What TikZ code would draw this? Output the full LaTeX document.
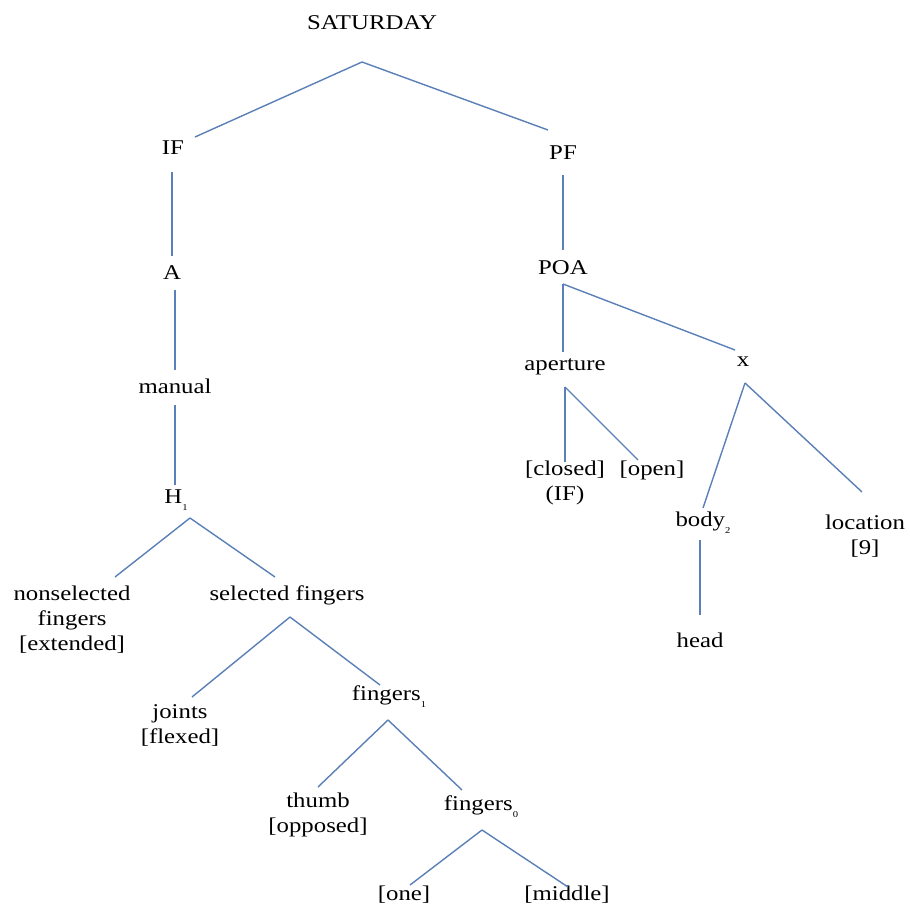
\documentclass[tikz,border=0pt]{standalone}
\usepackage{fontspec}
\setmainfont{Liberation Serif}[FakeStretch=1.18]
\begin{document}
\begin{tikzpicture}[x=1pt,y=-1pt,
  lbl/.style={inner sep=0pt,align=center,font=\fontsize{21}{25}\selectfont},
  branch/.style={draw={rgb,255:red,91;green,128;blue,184},line width=1.4pt}]
\newcommand{\sub}[1]{\raisebox{-7pt}{\fontsize{9}{9}\selectfont #1}}
\useasboundingbox (0,0) rectangle (910,909);
\fill[white] (0,0) rectangle (910,909);

% nodes
\node[lbl] (sat) at (372,23) {SATURDAY};
\node[lbl] (if) at (173,148) {IF};
\node[lbl] (pf) at (563,153) {PF};
\node[lbl] (a) at (172,273) {A};
\node[lbl] (poa) at (563,268) {POA};
\node[lbl] (manual) at (175,386) {manual};
\node[lbl] (aperture) at (565,367) {aperture};
\node[lbl] (x) at (743,362) {x};
\node[lbl] (h) at (176,500) {H\sub{1}};
\node[lbl] (closed) at (565,483) {[closed]\\(IF)};
\node[lbl] (open) at (652,470) {[open]};
\node[lbl] (body) at (703,523) {body\sub{2}};
\node[lbl] (location) at (865,536) {location\\{[9]}};
\node[lbl] (head) at (700,640) {head};
\node[lbl] (nonsel) at (72,620) {nonselected\\fingers\\{[extended]}};
\node[lbl] (sel) at (287,595) {selected fingers};
\node[lbl] (joints) at (180,725) {joints\\{[flexed]}};
\node[lbl] (fone) at (389,697) {fingers\sub{1}};
\node[lbl] (thumb) at (318,815) {thumb\\{[opposed]}};
\node[lbl] (fzero) at (481,807) {fingers\sub{0}};
\node[lbl] (one) at (404,895) {[one]};
\node[lbl] (middle) at (567,895) {[middle]};

% branches
\draw[branch] ([shift={(-10,39)}]sat.center) -- ([shift={(22,-11)}]if.center);
\draw[branch] ([shift={(-10,39)}]sat.center) -- ([shift={(-15,-23)}]pf.center);
\draw[branch] ([shift={(-1,24)}]if.center) -- ([shift={(0,-17)}]a.center);
\draw[branch] ([shift={(0,22)}]pf.center) -- ([shift={(0,-18)}]poa.center);
\draw[branch] ([shift={(3,17)}]a.center) -- ([shift={(0,-16)}]manual.center);
\draw[branch] ([shift={(0,19)}]manual.center) -- ([shift={(-1,-15)}]h.center);
\draw[branch] ([shift={(14,18)}]h.center) -- ([shift={(43,-43)}]nonsel.center);
\draw[branch] ([shift={(14,18)}]h.center) -- ([shift={(-12,-18)}]sel.center);
\draw[branch] ([shift={(3,22)}]sel.center) -- ([shift={(12,-28)}]joints.center);
\draw[branch] ([shift={(3,22)}]sel.center) -- ([shift={(-9,-12)}]fone.center);
\draw[branch] ([shift={(-1,23)}]fone.center) -- ([shift={(0,-28)}]thumb.center);
\draw[branch] ([shift={(-1,23)}]fone.center) -- ([shift={(-19,-17)}]fzero.center);
\draw[branch] ([shift={(1,23)}]fzero.center) -- ([shift={(6,-10)}]one.center);
\draw[branch] ([shift={(1,23)}]fzero.center) -- ([shift={(1,-8)}]middle.center);
\draw[branch] ([shift={(0,16)}]poa.center) -- ([shift={(-2,-15)}]aperture.center);
\draw[branch] ([shift={(0,16)}]poa.center) -- ([shift={(-8,-12)}]x.center);
\draw[branch] ([shift={(0,20)}]aperture.center) -- ([shift={(0,-21)}]closed.center);
\draw[branch] ([shift={(0,20)}]aperture.center) -- ([shift={(-14,-10)}]open.center);
\draw[branch] ([shift={(2,21)}]x.center) -- ([shift={(0,-15)}]body.center);
\draw[branch] ([shift={(2,21)}]x.center) -- ([shift={(-3,-44)}]location.center);
\draw[branch] ([shift={(-3,17)}]body.center) -- ([shift={(0,-25)}]head.center);
\end{tikzpicture}
\end{document}
